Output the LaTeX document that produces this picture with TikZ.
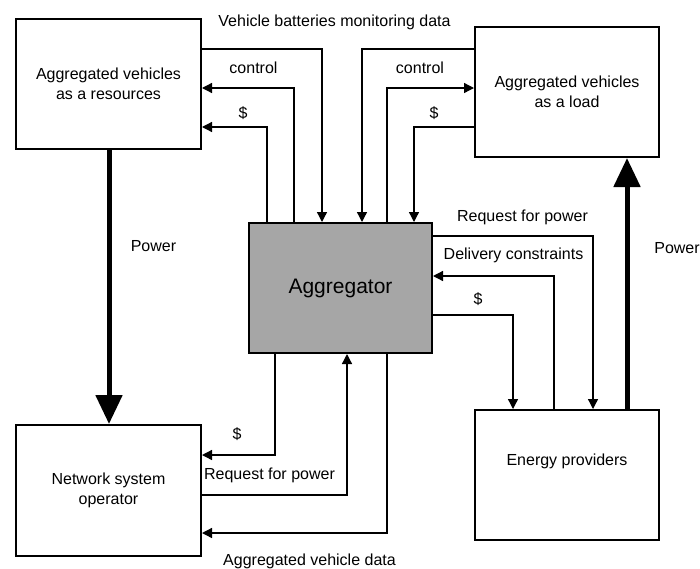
\documentclass[tikz,border=0pt]{standalone}
\usepackage{fontspec}
\setmainfont{Liberation Sans}
\usetikzlibrary{arrows.meta}
\begin{document}
\begin{tikzpicture}[x=1pt,y=-1pt,
  box/.style={draw, line width=2pt, inner sep=0pt, align=center,
    font=\fontsize{16}{19.5}\selectfont},
  conn/.style={line width=1.3pt, -{Triangle[length=10pt,width=10pt]}},
  power/.style={line width=5pt, -{Triangle[length=29pt,width=26pt]}},
  lbl/.style={anchor=base, inner sep=0pt, font=\fontsize{16}{19.5}\selectfont}]
\useasboundingbox (0,0) rectangle (700,568);
% boxes
\node[box, minimum width=185pt, minimum height=130pt] (r) at (108.5,84)
  {Aggregated vehicles\\as a resources};
\node[box, minimum width=184pt, minimum height=130pt] (l) at (567,92)
  {Aggregated vehicles\\as a load};
\node[box, fill={rgb,255:red,166;green,166;blue,166}, minimum width=183pt, minimum height=130pt,
  font=\fontsize{21}{25}\selectfont] (agg) at (340.5,288) {Aggregator};
\node[box, minimum width=185pt, minimum height=131pt] (nso) at (108.5,490.5)
  {Network system\\operator};
\node[box, minimum width=184pt, minimum height=130pt] (ep) at (567,475) {};
\node[font=\fontsize{16}{19.5}\selectfont, inner sep=0pt] (eptext) at (567,461) {Energy providers};
% top connectors
\draw[conn] (r.east |- 0,49) -| (agg.north -| 322,0);
\draw[conn] (agg.north -| 294,0) |- (r.east |- 0,88);
\draw[conn] (agg.north -| 267,0) |- (r.east |- 0,127);
\draw[conn] (l.west |- 0,49) -| (agg.north -| 362,0);
\draw[conn] (agg.north -| 387,0) |- (l.west |- 0,88);
\draw[conn] (l.west |- 0,127) -| (agg.north -| 414,0);
% power
\draw[power] (r.south -| 109,0) -- (nso.north -| 109,0);
\draw[power] (ep.north -| 627,0) -- (l.south -| 627,0);
% right connectors
\draw[conn] (agg.east |- 0,236) -| (ep.north -| 593,0);
\draw[conn] (ep.north -| 554,0) |- (agg.east |- 0,276);
\draw[conn] (agg.east |- 0,315) -| (ep.north -| 513,0);
% bottom connectors
\draw[conn] (agg.south -| 275,0) |- (nso.east |- 0,455);
\draw[conn] (nso.east |- 0,495) -| (agg.south -| 347,0);
\draw[conn] (agg.south -| 387,0) |- (nso.east |- 0,533);
% labels
\node[lbl] (t1) at (334.5,26.5) {Vehicle batteries monitoring data};
\node[lbl] (t2) at (253.5,73) {control};
\node[lbl] (t3) at (243,118) {\$};
\node[lbl] (t4) at (420,73) {control};
\node[lbl] (t5) at (434,118) {\$};
\node[lbl] (t6) at (522.5,221) {Request for power};
\node[lbl] (t7) at (513.5,259) {Delivery constraints};
\node[lbl] (t8) at (478,304) {\$};
\node[lbl] (t9) at (677,253) {Power};
\node[lbl] (t10) at (153.5,251) {Power};
\node[lbl] (t11) at (237,439) {\$};
\node[lbl] (t12) at (269.5,479) {Request for power};
\node[lbl] (t13) at (309.5,565) {Aggregated vehicle data};
\end{tikzpicture}
\end{document}
